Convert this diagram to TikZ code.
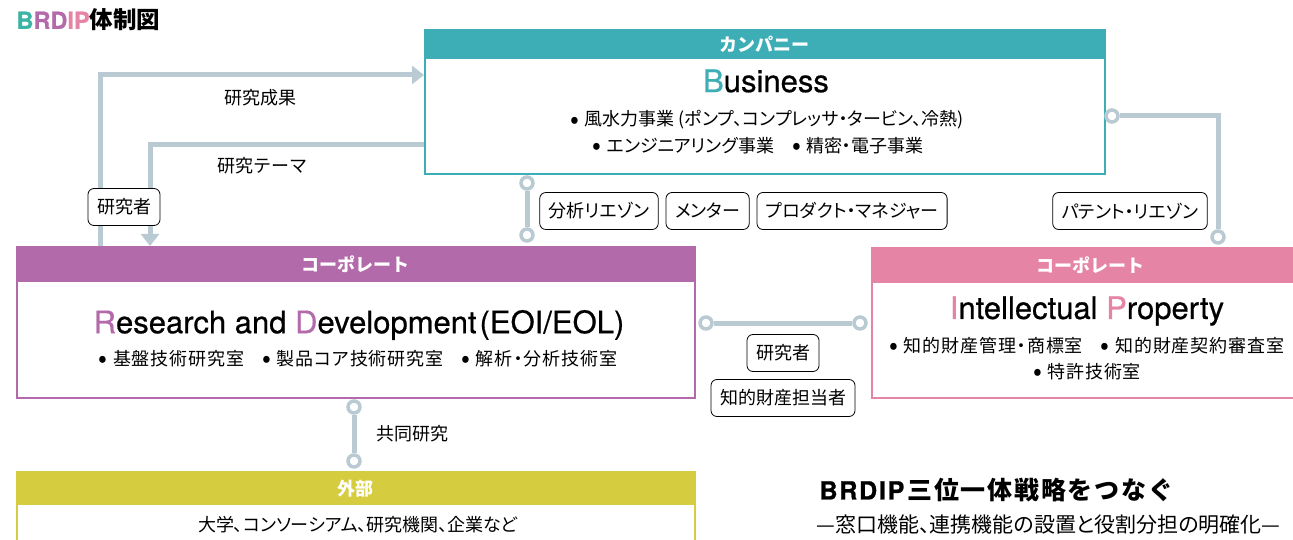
\documentclass[tikz,border=0pt]{standalone}
\usepackage{fontspec}
\setmainfont{Noto Sans CJK JP}
\newfontfamily\pj{Noto Sans CJK JP}[RawFeature=+palt]
\newfontfamily\pjs{Noto Sans CJK JP}[RawFeature=+palt, LetterSpace=5]
\newfontfamily\en{TeX Gyre Heros}
\newfontfamily\enb{TeX Gyre Heros}[FakeBold=0.6]
\newfontfamily\nt{Noto Sans CJK JP}[LetterSpace=7]
\newfontfamily\ntl{TeX Gyre Heros}[FakeBold=1, LetterSpace=7]
\newcommand\bul{\raisebox{-2.5pt}{\fontsize{26}{0}\selectfont•}\hspace{0.3em}}
\usetikzlibrary{positioning,arrows.meta}
\definecolor{bizc}{HTML}{3EAEB6}
\definecolor{rndc}{HTML}{B36AAA}
\definecolor{ipc}{HTML}{E684A5}
\definecolor{extc}{HTML}{D5CD3F}
\definecolor{lnkc}{HTML}{BACAD3}
\definecolor{titc}{HTML}{3BB4A4}
\tikzset{
  frame/.style={draw, line width=2pt, fill=white, inner sep=0pt, anchor=north west},
  hd/.style={inner sep=0pt, anchor=north west},
  hdtxt/.style={text=white, font=\fontsize{18}{20}\selectfont\bfseries},
  ttl/.style={font=\fontsize{31}{34}\selectfont\enb},
  itm/.style={font=\fontsize{18}{21}\selectfont\pj},
  itms/.style={font=\fontsize{18}{21}\selectfont\pjs},
  lbl/.style={font=\fontsize{18}{21}\selectfont},
  tag/.style={draw, rounded corners=6pt, line width=0.8pt, fill=white, inner xsep=9pt,
    minimum height=37pt, font=\fontsize{18}{21}\selectfont\pj},
  flow/.style={line width=5pt, lnkc, -{Triangle[width=18pt,length=12pt]}},
  link/.style={line width=5pt, lnkc},
  dot/.style={circle, draw=lnkc, line width=3.5pt, fill=white, minimum size=12pt, inner sep=0pt}
}
\begin{document}
\begin{tikzpicture}[x=1pt, y=-1pt]
\clip (0,0) rectangle (1293,540);
\node[anchor=west, font=\fontsize{23.5}{26}\selectfont\bfseries] (title) at (13,20)
  {{\enb\color{titc}B\color{rndc}RD\color{ipc}IP}体制図};
% boxes
\node[frame, draw=bizc, minimum width=680, minimum height=144] (bizf) at (424,29) {};
\node[hd, fill=bizc, minimum width=680, minimum height=30] (bizh) at (424,29) {};
\node[hdtxt] at (bizh) {カンパニー};
\node[ttl] (bizt) at (766,81) {{\color{bizc}B}usiness};
\node[itm] (bizi1) at (767,120) {\bul 風水力事業 (ポンプ、コンプレッサ・タービン、冷熱)};
\node[itm] (bizi2) at (758,146) {\bul エンジニアリング事業\hspace{1em}\bul 精密・電子事業};
\node[frame, draw=rndc, minimum width=678, minimum height=151] (rdf) at (16,246) {};
\node[hd, fill=rndc, minimum width=678, minimum height=36] (rdh) at (16,246) {};
\node[hdtxt] at (rdh) {コーポレート};
\node[ttl, font=\fontsize{31}{34}\selectfont\enb] (rdt) at (359,325)
  {{\color{rndc}R}esearch and {\color{rndc}D}evelopment\hspace{3pt}(EOI/EOL)};
\node[itms] (rdi) at (358,359) {\bul 基盤技術研究室\hspace{1em}\bul 製品コア技術研究室\hspace{1em}\bul 解析・分析技術室};
\node[frame, draw=ipc, minimum width=440, minimum height=150] (ipf) at (871,247) {};
\node[hd, fill=ipc, minimum width=440, minimum height=36] (iph) at (871,247) {};
\node[hdtxt] at (1090,265) {コーポレート};
\node[ttl] (ipt) at (1087,311) {{\color{ipc}I}ntellectual {\color{ipc}P}roperty};
\node[itms] (ipi1) at (1087,346) {\bul 知的財産管理・商標室\hspace{1em}\bul 知的財産契約審査室};
\node[itms] (ipi2) at (1087,372) {\bul 特許技術室};
\node[frame, draw=extc, minimum width=678, minimum height=100] (exf) at (16,471) {};
\node[hd, fill=extc, minimum width=678, minimum height=34] (exh) at (16,471) {};
\node[hdtxt] at (exh) {外部};
\node[itm] (exi) at (358,525) {大学、コンソーシアム、研究機関、企業など};
% flows
\coordinate (up) at (100,246);
\draw[flow] (up) |- (bizf.west |- 0,75);
\draw[flow] (bizf.west |- 0,145) -| (rdh.north -| 150,0);
\node[lbl] (res) at (260,98) {研究成果};
\node[lbl] (thm) at (262,166) {研究テーマ};
% links
\node[dot] (d1) at (527,183) {};
\node[dot] (d2) at (527,235) {};
\node[dot] (d3) at (1112,116) {};
\node[dot] (d4) at (1218,237) {};
\node[dot] (d5) at (706,323) {};
\node[dot] (d6) at (860,323) {};
\node[dot] (d7) at (354,407) {};
\node[dot] (d8) at (354,461) {};
\draw[link] (d1) -- (d2);
\draw[link] (d3) -| (d4);
\draw[link] (d5) -- (d6);
\draw[link] (d7) -- (d8);
\node[lbl] (joint) at (412,434) {共同研究};
% tags
\node[tag] (t1) at (124,207) {研究者};
\node[tag] (t2) at (599,211) {分析リエゾン};
\node[tag, right=7pt of t2] (t3) {メンター};
\node[tag, right=7pt of t3] (t4) {プロダクト・マネジャー};
\node[tag] (t5) at (1130,211) {パテント・リエゾン};
\node[tag] (t6) at (783,353) {研究者};
\node[tag] (t7) at (783,398) {知的財産担当者};
% note
\node[anchor=west, font=\fontsize{25}{28}\selectfont\bfseries] (note) at (816,490)
  {{\ntl BRDIP}\hspace{3pt}\nt 三位一体戦略をつなぐ};
\node[anchor=west, font=\fontsize{21}{24}\selectfont\pj] (sub) at (813,525)
  {—窓口機能、連携機能の設置と役割分担の明確化—};
\end{tikzpicture}
\end{document}
